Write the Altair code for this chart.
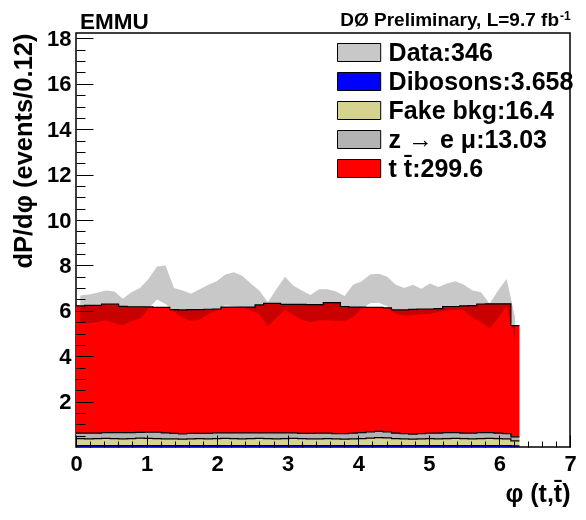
import altair as alt
import numpy as np
import pandas as pd

FONT = "Liberation Sans"
NB = 52
BW = 2 * np.pi / NB

# per-bin contributions (events / bin)
dibosons = [0.06] * 51 + [0.05]
fake = [0.31, 0.30, 0.31, 0.32, 0.31, 0.30, 0.31, 0.33, 0.32, 0.31, 0.30, 0.30, 0.29,
        0.30, 0.31, 0.30, 0.31, 0.32, 0.31, 0.30, 0.31, 0.32, 0.31, 0.30, 0.31, 0.32,
        0.31, 0.30, 0.30, 0.31, 0.30, 0.29, 0.30, 0.31, 0.33, 0.35, 0.34, 0.31, 0.30,
        0.29, 0.30, 0.31, 0.30, 0.31, 0.32, 0.31, 0.30, 0.31, 0.32, 0.31, 0.30, 0.22]
zemu = [0.24, 0.25, 0.24, 0.25, 0.26, 0.27, 0.26, 0.25, 0.27, 0.28, 0.26, 0.24, 0.23,
        0.24, 0.23, 0.24, 0.25, 0.24, 0.25, 0.26, 0.25, 0.24, 0.25, 0.26, 0.25, 0.24,
        0.23, 0.24, 0.25, 0.24, 0.23, 0.24, 0.25, 0.26, 0.27, 0.28, 0.26, 0.24, 0.23,
        0.22, 0.23, 0.24, 0.25, 0.26, 0.25, 0.24, 0.25, 0.26, 0.25, 0.24, 0.23, 0.18]
ttbar = [5.61, 5.63, 5.63, 5.67, 5.67, 5.57, 5.55, 5.54, 5.52, 5.50, 5.53, 5.45, 5.46,
         5.45, 5.45, 5.47, 5.46, 5.54, 5.54, 5.54, 5.54, 5.64, 5.71, 5.71, 5.66, 5.66,
         5.68, 5.67, 5.66, 5.75, 5.77, 5.60, 5.55, 5.53, 5.49, 5.46, 5.47, 5.43, 5.45,
         5.49, 5.49, 5.47, 5.49, 5.56, 5.56, 5.61, 5.62, 5.67, 5.68, 5.70, 5.72, 4.90]

# data band (lower / upper edge at bin centres)
data_lo = [5.50, 5.45, 5.50, 5.58, 5.45, 5.36, 5.55, 5.65, 6.10, 6.50, 6.30, 5.95, 5.70,
           5.55, 5.62, 5.85, 6.01, 6.25, 6.20, 6.16, 6.00, 5.85, 5.30, 5.70, 6.05, 5.80,
           5.60, 5.50, 5.58, 5.58, 5.55, 5.55, 5.72, 6.10, 6.33, 6.35, 6.20, 5.85, 5.79,
           5.80, 5.85, 5.87, 5.95, 6.00, 6.05, 6.00, 5.70, 5.50, 5.22, 5.70, 6.20, 4.75]
data_hi = [6.67, 6.72, 6.80, 6.90, 6.85, 6.53, 6.82, 7.00, 7.40, 7.95, 8.00, 7.00, 6.90,
           6.75, 6.95, 7.15, 7.30, 7.60, 7.70, 7.55, 7.20, 6.90, 6.38, 6.95, 7.50, 7.10,
           6.90, 6.70, 6.95, 6.95, 6.85, 6.65, 7.15, 7.30, 7.60, 7.63, 7.50, 7.15, 7.00,
           7.15, 6.97, 7.20, 7.05, 7.20, 7.30, 7.15, 6.90, 6.82, 6.31, 6.90, 7.40, 5.70]

names = ["Data:346", "Dibosons:3.658", "Fake bkg:16.4", "z \u2192 e \u03bc:13.03", "t t\u0304:299.6"]
colors = ["#c8c8c8", "#0000ff", "#d6d28f", "#b3b3b3", "#ff0000"]

# build stacked table (step histogram)
rows = []
cum = np.zeros(NB)
for name, vals in zip(names[1:], [dibosons, fake, zemu, ttbar]):
    lo = cum.copy()
    hi = cum + np.array(vals)
    for i in range(NB + 1):
        j = min(i, NB - 1)
        rows.append({"series": name, "phi": i * BW, "lo": lo[j], "hi": hi[j]})
    cum = hi
stack = pd.DataFrame(rows)
band = pd.DataFrame({"series": names[0], "phi": [(i + 0.5) * BW for i in range(NB)],
                     "lo": data_lo, "hi": data_hi})

W, H = 494, 414
xs = alt.Scale(domain=[0, 7], nice=False, zero=False)
ys = alt.Scale(domain=[0, 18.24], nice=False, zero=True)
cs = alt.Scale(domain=names, range=colors)

lab = dict(labelFont=FONT, labelFontWeight="bold", labelFontSize=22, labelColor="black",
           tickColor="black", tickWidth=1, domain=False, grid=False, zindex=1)
nolab = {k: v for k, v in lab.items() if not k.startswith("label")}

x_major = alt.Axis(values=list(range(0, 8)), orient="bottom", offset=-12, tickSize=12,
                   labelPadding=6, labelFlush=False, format="d",
                   title="\u03c6 (t,t\u0304)", titleFont=FONT, titleFontWeight="bold",
                   titleFontSize=25, titleColor="black", titleAnchor="end", titlePadding=7,
                   **lab)
x_minor = alt.Axis(values=[round(v * 0.2, 1) for v in range(0, 36) if v % 5 != 0],
                   orient="bottom", offset=-6, tickSize=6, labels=False, title=None, **nolab)
y_major = alt.Axis(values=list(range(2, 19, 2)), orient="left", offset=-17, tickSize=17,
                   labelPadding=5, format="d",
                   title="dP/d\u03c6 (events/0.12)", titleFont=FONT, titleFontWeight="bold",
                   titleFontSize=25.5, titleColor="black", titleAnchor="end", titlePadding=10,
                   **lab)
y_minor = alt.Axis(values=[v * 0.5 for v in range(1, 37) if v % 4 != 0],
                   orient="left", offset=-9, tickSize=9, labels=False, title=None, **nolab)

legend = alt.Legend(title=None, orient="none", legendX=270.6, legendY=7, padding=0,
                    symbolType="M-2.4,-1H2.4V1H-2.4Z", symbolSize=324,
                    symbolStrokeColor="black", symbolStrokeWidth=1, symbolOpacity=1,
                    labelFont=FONT, labelFontWeight="bold", labelFontSize=25,
                    labelColor="black", labelOffset=17, rowPadding=3, labelLimit=0)

areas = alt.Chart(stack).mark_area(interpolate="step-after").encode(
    x=alt.X("phi:Q", scale=xs, axis=x_major),
    y=alt.Y("hi:Q", scale=ys, axis=y_major),
    y2="lo:Q",
    color=alt.Color("series:N", scale=cs, legend=legend),
)
lines = alt.Chart(stack).mark_line(interpolate="step-after", color="black", strokeWidth=1.2).encode(
    x=alt.X("phi:Q", scale=xs, axis=x_minor),
    y=alt.Y("hi:Q", scale=ys, axis=y_minor),
    detail="series:N",
)
band_layer = alt.Chart(band).mark_area(interpolate="linear", blend="multiply").encode(
    x=alt.X("phi:Q", scale=xs, axis=None),
    y=alt.Y("hi:Q", scale=ys, axis=None),
    y2="lo:Q",
    color=alt.Color("series:N", scale=cs, legend=legend),
)

one = pd.DataFrame({"a": [0]})
t_emmu = alt.Chart(one).mark_text(text="EMMU", font=FONT, fontWeight="bold", fontSize=22.5,
                                  align="left", baseline="alphabetic", color="black").encode(
    x=alt.value(4), y=alt.value(-4))
t_d0 = alt.Chart(one).mark_text(text="D\u00d8 Preliminary, L=9.7 fb", font=FONT, fontWeight="bold",
                                fontSize=19, align="right", baseline="alphabetic", color="black").encode(
    x=alt.value(483), y=alt.value(-7))
t_sup = alt.Chart(one).mark_text(text="-1", font=FONT, fontWeight="bold", fontSize=12,
                                 align="left", baseline="alphabetic", color="black").encode(
    x=alt.value(484), y=alt.value(-13))

chart = alt.layer(areas, lines, band_layer, t_emmu, t_d0, t_sup).resolve_axis(
    x="independent", y="independent"
).properties(
    width=W, height=H,
    autosize=alt.AutoSizeParams(type="none"),
    padding={"left": 68, "top": 25, "right": 8, "bottom": 61},
).configure_view(stroke="black", strokeWidth=1.5)

chart.save("out.html", embed_options={"renderer": "svg", "actions": False})
